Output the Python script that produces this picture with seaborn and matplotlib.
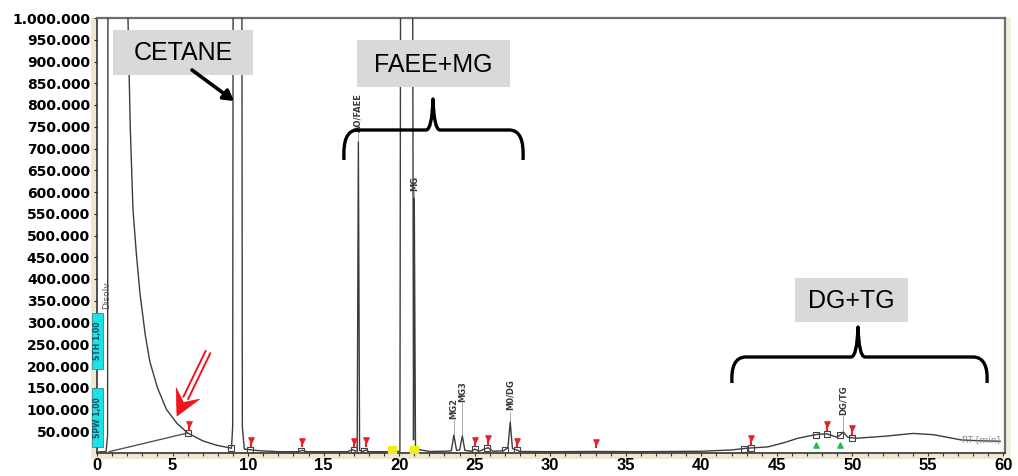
import numpy as np
import pandas as pd
import matplotlib
matplotlib.use("Agg")
import matplotlib.pyplot as plt
import seaborn as sns
from matplotlib.patches import Rectangle, PathPatch, Polygon, FancyArrowPatch
from matplotlib.path import Path
from matplotlib.lines import Line2D

# ---- chromatogram trace: retention time (min) and detector signal ----
rt_min = [0.0, 0.6, 0.7, 0.76, 1.95, 2.05, 2.2, 2.38, 2.6, 2.85, 3.2, 3.5, 4.0, 4.6,
          5.3, 6.0, 7.0, 7.9, 8.9, 8.98, 9.05, 9.55, 9.62, 9.75, 10.3, 10.8, 11.5, 12.0,
          13.3, 13.6, 13.9, 16.6, 16.9, 17.1, 17.22, 17.3, 17.38, 17.6, 17.8, 18.0, 19.6,
          20.05, 20.15, 20.82, 20.95, 21.0, 21.08, 21.3, 21.6, 22.0, 23.0, 23.45, 23.62,
          23.8, 24.0, 24.18, 24.35, 24.8, 25.0, 25.3, 25.7, 25.9, 26.2, 26.9, 27.2, 27.35,
          27.5, 27.7, 28.0, 30.0, 33.0, 36.0, 40.0, 42.0, 43.0, 44.4, 45.5, 46.4, 47.7,
          48.3, 49.0, 49.4, 49.7, 50.3, 51.5, 52.3, 54.0, 55.4, 56.3, 57.2, 58.5, 59.8]
signal = [2500, 3000, 40000, 2.5e6, 2.5e6, 1.0e6, 750e3, 560e3, 460e3, 365e3, 270e3,
          210e3, 150e3, 100e3, 68e3, 46e3, 28e3, 18e3, 11e3, 60e3, 2.5e6, 2.5e6, 60e3,
          9000, 7000, 5000, 4000, 3000, 3000, 6000, 3000, 3000, 8000, 4000, 6000, 715e3,
          6000, 3500, 7000, 3000, 3000, 4000, 2.5e6, 2.5e6, 30e3, 585e3, 15e3, 8000, 6000,
          3500, 4000, 5000, 41000, 6000, 7000, 39000, 6000, 4000, 9000, 4000, 10000, 12000,
          4000, 5000, 12000, 71000, 10000, 8000, 3500, 3000, 3500, 3000, 4000, 7000, 11000,
          14000, 24000, 34000, 43000, 44000, 36000, 48000, 36000, 34000, 37000, 39000,
          45000, 42000, 36000, 30000, 28000, 27000]

# named peaks
peak_names = ["AO/FAEE", "MG", "MG2", "MG3", "M0/DG", "DG/TG"]
peak_rt = [17.3, 21.0, 23.62, 24.18, 27.35, 49.4]
peak_height = [715e3, 585e3, 41000, 39000, 71000, 48000]
label_base = [735e3, 600e3, 75000, 115000, 95000, 85000]

# integration marks
red_mark_rt = [0.8, 6.1, 10.2, 13.6, 17.0, 17.8, 25.0, 25.9, 27.8, 33.0, 43.3, 48.3, 50.0]
green_mark_rt = [47.6, 49.2]
square_rt = [0.8, 6.0, 8.85, 10.1, 13.5, 17.0, 17.7, 25.0, 25.8, 27.0, 27.8, 42.8, 43.3,
             47.6, 48.3, 49.2, 50.0]
yellow_rt = [19.5, 20.95]

y_ticks = list(range(50000, 1000001, 50000))
y_tick_labels = [f"{v:,}".replace(",", ".") for v in y_ticks]
x_ticks = list(range(0, 61, 5))

W, H = 1018, 476


def fx(x):
    return x / W


def fy(y):
    return 1 - y / H


sns.set_style("white")
plt.rcParams["font.family"] = ["Liberation Sans", "DejaVu Sans"]

fig = plt.figure(figsize=(W / 100, H / 100), dpi=100)
fig.patch.set_facecolor("white")

# beige instrument frame strips
beige = "#eee8d2"
fig.add_artist(Rectangle((fx(91), fy(458)), fx(6), fy(18) - fy(458), transform=fig.transFigure,
                         fc=beige, ec="none", zorder=0))
fig.add_artist(Rectangle((fx(91), fy(459)), fx(914), fy(453) - fy(459), transform=fig.transFigure,
                         fc=beige, ec="none", zorder=0))
fig.add_artist(Rectangle((fx(1006), fy(458)), fx(5), fy(18) - fy(458), transform=fig.transFigure,
                         fc="#f3efdf", ec="none", zorder=0))

ax = fig.add_axes([fx(97), fy(453), fx(1005 - 97), fy(18) - fy(453)])
ax.set_facecolor("white")

df = pd.DataFrame({"rt": rt_min, "signal": signal})
sns.lineplot(data=df, x="rt", y="signal", ax=ax, color="#3c3c3c", linewidth=1.0,
             estimator=None, sort=False, zorder=3)

# integration baseline for the solvent tail
ax.plot([0.8, 6.0], [3000, 46000], color="#555555", lw=1.0, zorder=3)

trace_at = lambda t: np.interp(t, rt_min, signal)

ax.scatter(square_rt, trace_at(square_rt), marker="s", s=18, facecolor="none",
           edgecolor="#444444", linewidth=0.8, zorder=4)
ax.scatter(red_mark_rt, trace_at(red_mark_rt) + 22000, marker="v", s=14, color="#e8202a",
           zorder=5)
ax.scatter(red_mark_rt, trace_at(red_mark_rt) + 14000, marker="|", s=20, color="#e8202a",
           zorder=5)
ax.scatter(green_mark_rt, trace_at(green_mark_rt) - 24000, marker="^", s=14, color="#22c04a",
           zorder=5)
ax.scatter(yellow_rt, [6000, 8000], marker="s", s=30, color="#f2ee10", zorder=4)

# peak names with leader lines
for name, t, h, b in zip(peak_names, peak_rt, peak_height, label_base):
    ax.plot([t, t], [h, b], color="#9a9a9a", lw=0.6, zorder=2)
    ax.text(t, b + 3000, name, rotation=90, ha="center", va="bottom", fontsize=6,
            color="#3a3a3a", family=["DejaVu Sans"], fontweight="bold", zorder=6)

ax.text(0.66, 330e3, "Disolv", rotation=90, ha="center", va="bottom", fontsize=6.5,
        color="#555555", family=["DejaVu Sans"])
ax.text(59.8, 30000, "RT [min]", ha="right", va="center", fontsize=6.5, color="#8a8a8a",
        family=["DejaVu Sans"])

ax.set_xlim(0, 60.1)
ax.set_ylim(0, 1e6)
ax.set_xticks(x_ticks)
ax.set_xticklabels([str(v) for v in x_ticks])
ax.set_xticks(range(0, 61), minor=True)
ax.set_yticks(y_ticks)
ax.set_yticklabels(y_tick_labels)
ax.set_xlabel("")
ax.set_ylabel("")

for lab in ax.get_yticklabels():
    lab.set_fontfamily(["DejaVu Sans"])
    lab.set_fontweight("bold")
    lab.set_fontsize(10)
for lab in ax.get_xticklabels():
    lab.set_fontfamily(["Liberation Sans"])
    lab.set_fontweight("bold")
    lab.set_fontsize(12)

ax.tick_params(axis="y", which="major", length=2, width=0.8, pad=3, colors="#222222",
               labelcolor="black", left=True)
ax.tick_params(axis="x", which="both", length=2.5, width=0.8, pad=1, colors="#333333",
               labelcolor="black", bottom=True, direction="out")

ax.spines["left"].set_linestyle((0, (1, 1)))
ax.spines["left"].set_color("#333333")
ax.spines["left"].set_linewidth(1.2)
ax.spines["bottom"].set_color("#333333")
ax.spines["bottom"].set_linewidth(1.2)
for side in ("top", "right"):
    ax.spines[side].set_color("#6e6e6e")
    ax.spines[side].set_linewidth(1.6)

# cyan parameter tags on the signal axis
for (y0, y1, txt) in [(313, 369, "STH 1,00"), (388, 447, "SPW 1,00")]:
    fig.add_artist(Rectangle((fx(92), fy(y1)), fx(11), fy(y0) - fy(y1), transform=fig.transFigure,
                             fc="#19e3e8", ec="#3a8a8a", lw=0.6, zorder=5))
    fig.text(fx(97.5), fy((y0 + y1) / 2), txt, rotation=90, ha="center", va="center",
             fontsize=5.5, color="#1f4f5a", family=["DejaVu Sans"], fontweight="bold", zorder=6)

# grey caption boxes
for (x0, y0, x1, y1, txt) in [(113, 30, 253, 75, "CETANE"),
                             (357, 40, 510, 87, "FAEE+MG"),
                             (795, 278, 908, 322, "DG+TG")]:
    fig.add_artist(Rectangle((fx(x0), fy(y1)), fx(x1 - x0), fy(y0) - fy(y1),
                             transform=fig.transFigure, fc="#d9d9d9", ec="none", zorder=6))
    fig.text(fx((x0 + x1) / 2), fy((y0 + y1) / 2 + 1), txt, ha="center", va="center",
             fontsize=18, color="black", family=["Liberation Sans"], zorder=7)


def brace(x0, x1, xm, y_base, y_end, y_tip):
    pts = [(x0, y_end),
           (x0 - 1, y_base + 10), (x0 + 3, y_base), (x0 + 14, y_base),
           (xm - 7, y_base),
           (xm - 1, y_base), (xm, y_tip),
           (xm + 1, y_base), (xm + 7, y_base),
           (x1 - 14, y_base),
           (x1 - 3, y_base), (x1 + 1, y_base + 10), (x1, y_end)]
    codes = [Path.MOVETO,
             Path.CURVE4, Path.CURVE4, Path.CURVE4,
             Path.LINETO,
             Path.CURVE3, Path.CURVE3,
             Path.CURVE3, Path.CURVE3,
             Path.LINETO,
             Path.CURVE4, Path.CURVE4, Path.CURVE4]
    verts = [(fx(x), fy(y)) for x, y in pts]
    fig.add_artist(PathPatch(Path(verts, codes), transform=fig.transFigure, fill=False,
                             ec="black", lw=2.4, capstyle="butt", joinstyle="round", zorder=7))


brace(344, 523, 433, 130, 160, 99)
brace(732, 987, 858, 357, 383, 327)

# black pointer to the cetane peak
fig.add_artist(FancyArrowPatch(
    (fx(192), fy(70)), (fx(234), fy(101)), transform=fig.transFigure,
    arrowstyle="-|>,head_length=6,head_width=3.5", lw=2.6, color="black",
    shrinkA=0, shrinkB=0, zorder=8))

# red hollow-shaft arrow pointing at the solvent-tail integration point
tail = np.array([208.0, 352.0])
tip = np.array([177.0, 416.0])
u = (tip - tail) / np.linalg.norm(tip - tail)
n = np.array([u[1], -u[0]])
shaft_end = tip - 20 * u
for off in (-2.6, 2.6):
    a = tail + off * n
    b = shaft_end + off * n
    fig.add_artist(Line2D([fx(a[0]), fx(b[0])], [fy(a[1]), fy(b[1])], transform=fig.transFigure,
                          color="#f0141e", lw=1.4, zorder=8))
head = [tip, tip - 25 * u + 13 * n, tip - 15 * u, tip - 25 * u - 13 * n]
fig.add_artist(Polygon([(fx(p[0]), fy(p[1])) for p in head], closed=True,
                       transform=fig.transFigure, fc="#f0141e", ec="#f0141e", lw=0.5, zorder=8))

fig.savefig("out.png", dpi=100, facecolor="white")
